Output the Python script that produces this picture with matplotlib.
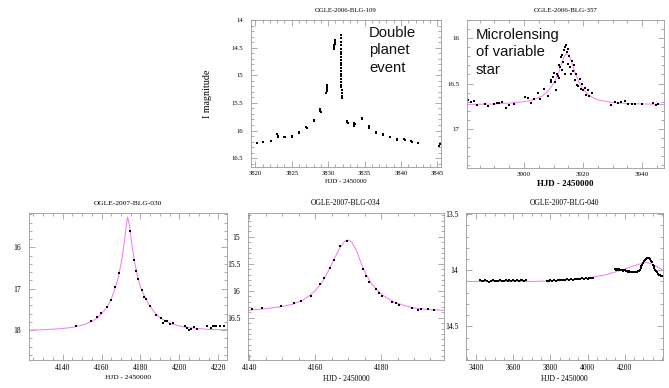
import matplotlib
matplotlib.use("Agg")
import matplotlib.pyplot as plt
from matplotlib.ticker import MultipleLocator, FuncFormatter

# OGLE-2006-BLG-109 (double planet event)
t109 = [3819.2, 3820.2, 3821.1, 3822.1,
        3823.0, 3823.05, 3823.1, 3823.1,
        3824.0, 3824.05, 3825.0, 3825.05, 3826.0, 3826.05,
        3827.0, 3827.05, 3828.0, 3828.05,
        3828.85, 3828.9, 3828.95,
        3829.75, 3829.8, 3829.8, 3829.85, 3829.85,
        3830.75, 3830.8, 3830.85, 3830.9, 3830.95, 3831.0,
        3831.75, 3831.75, 3831.75, 3831.75, 3831.75, 3831.75, 3831.75, 3831.75,
        3831.76, 3831.76, 3831.77, 3831.77, 3831.78, 3831.78, 3831.79, 3831.8,
        3831.8, 3831.82, 3831.83, 3831.85, 3831.88, 3831.9, 3831.95,
        3832.6, 3832.65, 3832.7,
        3833.5, 3833.55, 3833.6, 3833.65,
        3834.6, 3834.65, 3834.7,
        3835.55, 3835.6, 3836.55, 3836.6,
        3837.5, 3837.55, 3838.5, 3839.4, 3839.45,
        3840.45, 3840.5, 3841.4, 3841.45, 3842.4,
        3845.2, 3845.3]
m109 = [16.26, 16.23, 16.21, 16.19,
        16.07, 16.09, 16.1, 16.12,
        16.11, 16.12, 16.1, 16.11, 16.02, 16.04,
        15.93, 15.95, 15.81, 15.83,
        15.61, 15.64, 15.67,
        15.32, 15.28, 15.25, 15.21, 15.18,
        14.52, 14.49, 14.46, 14.43, 14.40, 14.37,
        14.27, 14.33, 14.40, 14.46, 14.52, 14.57, 14.62, 14.67,
        14.72, 14.77, 14.82, 14.87, 14.92, 14.97, 15.02, 15.07,
        15.12, 15.17, 15.22, 15.27, 15.32, 15.37, 15.42,
        15.82, 15.84, 15.87,
        15.9, 15.86, 15.92, 15.88,
        15.77, 15.8, 15.79,
        15.92, 15.95, 16.02, 16.04,
        16.07, 16.08, 16.11, 16.15, 16.17,
        16.16, 16.18, 16.19, 16.21, 16.22,
        16.28, 16.25]

# OGLE-2006-BLG-357 (microlensing of a variable star)
t357 = [3881.0, 3882.1, 3883.0, 3884.0, 3886.8, 3887.7, 3890.0, 3890.8, 3891.6,
        3892.7, 3893.8, 3895.0, 3896.7, 3900.3, 3901.2, 3902.4, 3903.5, 3904.6,
        3905.4, 3906.9, 3908.2, 3909.0, 3909.3, 3909.9, 3910.2, 3910.5, 3911.0,
        3911.3, 3911.6, 3911.9, 3912.0, 3912.2, 3912.5, 3912.8, 3913.0, 3913.2,
        3913.5, 3913.8, 3914.0, 3914.2, 3914.6, 3914.8, 3915.0, 3915.3, 3915.5,
        3915.8, 3916.0, 3916.3, 3916.6, 3917.0, 3917.3, 3917.6, 3918.0, 3918.4,
        3918.8, 3919.2, 3919.6, 3920.0, 3920.5, 3921.0, 3921.5, 3922.0, 3923.0,
        3929.6, 3930.7, 3931.8, 3933.0, 3934.1, 3935.2, 3936.4, 3937.5, 3939.8,
        3943.7, 3944.6, 3945.4]
m357 = [16.68, 16.70, 16.69, 16.74, 16.72, 16.75, 16.72, 16.71, 16.71,
        16.70, 16.77, 16.74, 16.73, 16.65, 16.66, 16.71, 16.67, 16.60,
        16.67, 16.56, 16.64, 16.48, 16.46, 16.43, 16.38, 16.48, 16.57,
        16.40, 16.42, 16.30, 16.44, 16.32, 16.21, 16.18, 16.35, 16.26,
        16.13, 16.10, 16.39, 16.08, 16.15, 16.28, 16.12, 16.20, 16.32,
        16.39, 16.40, 16.25, 16.36, 16.30, 16.46, 16.40, 16.52, 16.53,
        16.45, 16.56, 16.50, 16.57, 16.55, 16.63, 16.57, 16.64, 16.60,
        16.74, 16.70, 16.71, 16.70, 16.69, 16.72, 16.73, 16.73, 16.73,
        16.71, 16.74, 16.72]
tm357 = [3880.7, 3890, 3895, 3900, 3903, 3906, 3908, 3910, 3911.5, 3912.5,
         3913.5, 3914.3, 3915, 3916, 3917, 3918, 3919, 3920, 3922, 3925,
         3930, 3935, 3947.4]
mm357 = [16.73, 16.725, 16.715, 16.70, 16.68, 16.64, 16.59, 16.50, 16.40, 16.30,
         16.21, 16.17, 16.18, 16.25, 16.35, 16.44, 16.51, 16.56, 16.63, 16.68,
         16.71, 16.72, 16.73]

# OGLE-2007-BLG-030
t030 = [4146.9, 4154.6, 4157.8, 4159.5, 4162.6, 4164.7, 4166.7, 4169.0,
        4174.8, 4176.7, 4177.9, 4178.9, 4180.8, 4181.8, 4182.8, 4184.9,
        4187.8, 4190.6, 4191.8, 4192.6, 4193.4, 4195.2, 4196.9, 4202.9,
        4204.1, 4204.9, 4205.8, 4207.7, 4208.9, 4214.0, 4216.1, 4217.1,
        4217.8, 4218.8, 4220.9, 4222.9]
m030 = [17.91, 17.79, 17.67, 17.59, 17.43, 17.27, 16.96, 16.61,
        15.60, 16.31, 16.57, 16.77, 17.03, 17.19, 17.24, 17.41,
        17.63, 17.71, 17.82, 17.78, 17.77, 17.85, 17.83, 17.91,
        17.95, 17.99, 17.97, 17.92, 17.97, 17.91, 17.95, 17.91,
        17.90, 17.91, 17.91, 17.91]
tm030 = [4122.7, 4130, 4140, 4145, 4150, 4155, 4158, 4161, 4163, 4165, 4167,
         4168.5, 4170, 4171.5, 4172.5, 4173.4, 4174.3, 4175.5, 4177, 4178.5,
         4180, 4182, 4184, 4187, 4190, 4195, 4200, 4205, 4210, 4215, 4224.5]
mm030 = [18.00, 17.99, 17.96, 17.93, 17.88, 17.79, 17.70, 17.55, 17.42, 17.25, 16.98,
         16.75, 16.40, 15.95, 15.55, 15.27, 15.45, 15.90, 16.35, 16.70,
         16.95, 17.17, 17.35, 17.56, 17.70, 17.83, 17.90, 17.94, 17.96, 17.98, 17.99]

# OGLE-2007-BLG-034
t034 = [4140.8, 4143.8, 4149.7, 4153.6, 4155.8, 4158.8, 4161.5, 4162.7,
        4164.5, 4165.6, 4167.6, 4169.6, 4174.4, 4175.4, 4176.4, 4178.4,
        4179.4, 4180.4, 4183.4, 4184.4, 4185.5, 4189.5, 4191.3, 4192.1,
        4194.3, 4196.1]
m034 = [16.34, 16.32, 16.29, 16.23, 16.19, 16.09, 15.87, 15.77,
        15.57, 15.43, 15.17, 15.07, 15.60, 15.72, 15.83, 15.97,
        16.04, 16.10, 16.20, 16.23, 16.26, 16.32, 16.36, 16.33,
        16.34, 16.36]
tm034 = [4139.6, 4145, 4150, 4153, 4156, 4158, 4160, 4162, 4164, 4166, 4167.5,
         4169, 4170, 4171, 4172.5, 4174, 4175.5, 4177, 4179, 4181, 4184, 4187,
         4190, 4195, 4199.1]
mm034 = [16.36, 16.33, 16.29, 16.25, 16.18, 16.10, 16.00, 15.85, 15.63, 15.38, 15.20,
         15.08, 15.06, 15.09, 15.25, 15.50, 15.70, 15.86, 16.00, 16.10, 16.21, 16.27,
         16.32, 16.35, 16.36]

# OGLE-2007-BLG-040
t040 = [3420, 3430, 3440, 3450, 3460, 3470, 3480, 3490, 3500, 3510, 3520, 3530, 3540,
        3550, 3560, 3570, 3580, 3590, 3600, 3610, 3620, 3630, 3640, 3650, 3660, 3670,
        3780, 3790, 3800, 3810, 3820, 3830, 3840, 3850, 3860, 3870, 3880, 3890, 3900,
        3910, 3920, 3930, 3940, 3950, 3960, 3970, 3980, 3990, 4000, 4010, 4020, 4030,
        4150, 4155, 4160, 4165, 4170, 4175, 4180, 4185, 4190, 4195, 4200, 4205, 4210,
        4215, 4220, 4225, 4230, 4235, 4240, 4245, 4250, 4255, 4260, 4265, 4270, 4275,
        4280, 4285, 4290, 4295, 4300, 4305, 4310, 4315, 4320, 4325, 4330, 4335, 4340,
        4345, 4350, 4355, 4360, 4365, 4370, 4375, 4380, 4385, 4390, 4395, 4398]
m040 = [14.09, 14.10, 14.095, 14.09, 14.10, 14.105, 14.095, 14.09, 14.10, 14.095, 14.10,
        14.09, 14.095, 14.10, 14.09, 14.095, 14.085, 14.095, 14.09, 14.10, 14.09, 14.095,
        14.085, 14.09, 14.095, 14.09,
        14.095, 14.10, 14.09, 14.095, 14.09, 14.095, 14.085, 14.09, 14.09, 14.085, 14.09,
        14.08, 14.085, 14.08, 14.085, 14.075, 14.08, 14.075, 14.08, 14.07, 14.075, 14.07,
        14.075, 14.065, 14.07, 14.065,
        13.99, 13.995, 13.985, 13.995, 13.99, 14.0, 13.995, 14.0, 14.005, 13.995, 14.0,
        14.01, 14.005, 14.01, 14.015, 14.01, 14.015, 14.02, 14.015, 14.02, 14.02, 14.015,
        14.02, 14.015, 14.01, 14.005, 13.995, 13.98, 13.965, 13.95, 13.935, 13.92, 13.91,
        13.90, 13.895, 13.89, 13.89, 13.90, 13.915, 13.93, 13.95, 13.965, 13.98, 13.995,
        14.01, 14.02, 14.03, 14.04, 14.045, 14.05, 14.055]
tm040 = [3346, 3500, 3700, 3800, 3900, 4000, 4100, 4200, 4250, 4300, 4315,
         4340, 4370, 4406]
mm040 = [14.10, 14.10, 14.10, 14.095, 14.085, 14.07, 14.04, 13.99, 13.96, 13.935, 13.93,
         13.94, 13.965, 14.0]

W, H = 669, 388
SERIF = "Liberation Serif"
MODEL = "#f47ef4"

fig = plt.figure(figsize=(W / 100, H / 100), dpi=100)


def panel(box, xlim, ylim, xmaj, xmin, ymaj, ymin, title, fs=5.3, lfs=5.6):
    l, t, r, b = box
    ax = fig.add_axes([l / W, 1 - b / H, (r - l) / W, (b - t) / H])
    ax.set_xlim(*xlim)
    ax.set_ylim(*ylim)
    ax.xaxis.set_major_locator(MultipleLocator(xmaj))
    ax.xaxis.set_minor_locator(MultipleLocator(xmin))
    ax.yaxis.set_major_locator(MultipleLocator(ymaj))
    ax.yaxis.set_minor_locator(MultipleLocator(ymin))
    fmt = FuncFormatter(lambda v, p: "%g" % round(v, 3))
    ax.xaxis.set_major_formatter(fmt)
    ax.yaxis.set_major_formatter(fmt)
    ax.tick_params(which="both", direction="in", top=True, right=True,
                   color="0.55", width=0.5, labelsize=fs)
    ax.tick_params(axis="x", pad=3)
    ax.tick_params(axis="y", pad=5.5)
    ax.tick_params(which="major", length=4)
    ax.tick_params(which="minor", length=2)
    for lab in ax.get_xticklabels() + ax.get_yticklabels():
        lab.set_family(SERIF)
    for s in ax.spines.values():
        s.set_color("0.6")
        s.set_linewidth(0.6)
    ax.set_title(title, fontsize=lfs, family=SERIF, pad=6)
    ax.set_xlabel("HJD - 2450000", fontsize=lfs, family=SERIF, labelpad=2)
    return ax


ax1 = panel((251, 20, 441, 167), (3819.4, 3845.5), (16.66, 14.0), 5, 1, 0.5, 0.1,
            "OGLE-2006-BLG-109", fs=4.8, lfs=4.9)
ax1.plot(t109, m109, "s", color="k", ms=1.6, mew=0)
ax1.set_ylabel("I magnitude", fontsize=7.2, family=SERIF, labelpad=14)

ax2 = panel((467, 20, 664, 168), (3880.7, 3947.4), (17.43, 15.80), 20, 5, 0.5, 0.1,
            "OGLE-2006-BLG-357", fs=5.0, lfs=5.0)
ax2.xaxis.label.set_fontsize(6.4)
ax2.xaxis.label.set_fontweight("bold")
ax2.plot(tm357, mm357, color=MODEL, lw=0.7)
ax2.plot(t357, m357, "s", color="k", ms=1.7, mew=0)

ax3 = panel((29, 213, 227, 360), (4122.7, 4224.5), (18.72, 15.17), 20, 5, 1, 0.2,
            "OGLE-2007-BLG-030", fs=5.5, lfs=5.4)
ax3.plot(tm030, mm030, color=MODEL, lw=0.75)
ax3.plot(t030, m030, "s", color="k", ms=2.0, mew=0)

ax4 = panel((248, 213, 444, 360), (4139.6, 4199.1), (17.28, 14.56), 20, 5, 0.5, 0.1,
            "OGLE-2007-BLG-034", fs=5.5, lfs=5.5)
ax4.set_yticks([15, 15.5, 16, 16.5])
ax4.plot(tm034, mm034, color=MODEL, lw=0.75)
ax4.plot(t034, m034, "s", color="k", ms=2.0, mew=0)

ax5 = panel((466, 213, 663, 360), (3346, 4406), (14.8, 13.49), 200, 50, 0.5, 0.1,
            "OGLE-2007-BLG-040", fs=5.5, lfs=5.5)
ax5.set_xticks([3400, 3600, 3800, 4000, 4200])
ax5.plot(tm040, mm040, color=MODEL, lw=0.75)
ax5.plot(t040, m040, "s", color="k", ms=2.0, mew=0)

fig.text(369 / W, 1 - 26 / H, "Double\nplanet\nevent", family="Liberation Sans",
         fontsize=10.7, va="top", ha="left", linespacing=1.3, color="#111111")
fig.text(476 / W, 1 - 28 / H, "Microlensing\nof variable\nstar", family="Liberation Sans",
         fontsize=10.7, va="top", ha="left", linespacing=1.3, color="#111111")

fig.savefig("out.png", dpi=100)
